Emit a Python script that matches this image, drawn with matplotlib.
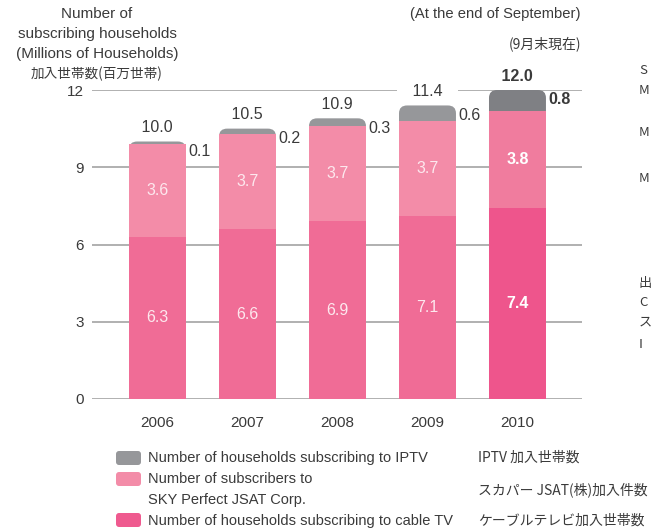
import numpy as np
import matplotlib.pyplot as plt
from matplotlib.patches import FancyBboxPatch

years = ['2006', '2007', '2008', '2009', '2010']
cable = [6.3, 6.6, 6.9, 7.1, 7.4]
skyperfect = [3.6, 3.7, 3.7, 3.7, 3.8]
iptv = [0.1, 0.2, 0.3, 0.6, 0.8]
yticks = [0, 3, 6, 9, 12]

plt.rcParams['font.family'] = ['Liberation Sans', 'Noto Sans CJK JP']
jp = ['Noto Sans CJK JP', 'Liberation Sans']
txt = '#3a3a3a'

fig = plt.figure(figsize=(6.51, 5.32), dpi=100)
ax = fig.add_axes([92/651, 133/532, 490/651, 309/532])

x = np.arange(len(years))
w = 0.633
totals = np.array(cable) + np.array(skyperfect) + np.array(iptv)
gray = ['#96979a'] * 4 + ['#7f8084']
pink = ['#f38ca8'] * 4 + ['#f07c9e']
deep = ['#f06c96'] * 4 + ['#ee558c']
wt = ['normal'] * 4 + ['bold']
inner = ['#fde8ee'] * 4 + ['white']

# gray (IPTV) bar with rounded top, full height; pink stacks drawn over it
for i in range(len(years)):
    ax.add_patch(FancyBboxPatch((x[i] - w/2, 0), w, totals[i],
                                boxstyle='round,pad=0,rounding_size=0.09',
                                mutation_aspect=3.4, fc=gray[i], ec='none',
                                zorder=3, clip_on=False))
ax.bar(x, cable, w, color=deep, zorder=4)
ax.bar(x, skyperfect, w, bottom=cable, color=pink, zorder=4)

for i in range(len(years)):
    ax.text(x[i], cable[i]/2, f'{cable[i]:.1f}', ha='center', va='center',
            color=inner[i], fontsize=11.5, fontweight=wt[i], zorder=5)
    ax.text(x[i], cable[i] + skyperfect[i]/2, f'{skyperfect[i]:.1f}', ha='center',
            va='center', color=inner[i], fontsize=11.5, fontweight=wt[i], zorder=5)
    ax.annotate(f'   {totals[i]:.1f}   ', (x[i], totals[i]), xytext=(0, 10),
                textcoords='offset points', ha='center', va='center', color=txt,
                fontsize=11.5, fontweight=wt[i], zorder=2.5,
                bbox=dict(boxstyle='square,pad=0.15', fc='white', ec='none'))
    ax.annotate(f'{iptv[i]:.1f}', (x[i] + w/2, totals[i]), xytext=(2, -7),
                textcoords='offset points', ha='left', va='center', color=txt,
                fontsize=11.5, fontweight=wt[i], zorder=5)

ax.set_xlim(-0.728, 4.717)
ax.set_ylim(0, 12)
ax.set_yticks(yticks)
ax.set_xticks(x)
ax.set_xticklabels(years)
ax.yaxis.grid(True, color='#9b9b9b', lw=1.1)
ax.set_axisbelow(True)
for s in ax.spines.values():
    s.set_visible(False)
ax.tick_params(axis='y', length=0, pad=6, labelsize=11, labelcolor=txt)
ax.tick_params(axis='x', length=0, pad=12, labelsize=11, labelcolor=txt)

def fy(py):
    return 1 - py / 532

# axis title
fig.text(97/651, fy(14), 'Number of', ha='center', va='center', fontsize=11, color=txt)
fig.text(97/651, fy(34), 'subscribing households', ha='center', va='center', fontsize=11, color=txt)
fig.text(97/651, fy(54), '(Millions of Households)', ha='center', va='center', fontsize=11, color=txt)
fig.text(97/651, fy(74), '加入世帯数(百万世帯)', ha='center', va='center', fontsize=9.8,
         color=txt, family=jp)
fig.text(581/651, fy(14), '(At the end of September)', ha='right', va='center', fontsize=10.6, color=txt)
fig.text(581/651, fy(44), '(9月末現在)', ha='right', va='center', fontsize=10, color=txt, family=jp)

# legend
sw = [(458, '#96979a'), (479, '#f38ca8'), (520, '#ef5a8f')]
for py, c in sw:
    fig.patches.append(FancyBboxPatch((116/100, (532 - py - 7)/100), 0.25, 0.14,
                                      boxstyle='round,pad=0,rounding_size=0.03',
                                      fc=c, ec='none', transform=fig.dpi_scale_trans,
                                      figure=fig))
fig.text(148/651, fy(458), 'Number of households subscribing to IPTV', va='center', fontsize=10.5, color=txt)
fig.text(148/651, fy(479), 'Number of subscribers to', va='center', fontsize=10.5, color=txt)
fig.text(148/651, fy(500), 'SKY Perfect JSAT Corp.', va='center', fontsize=10.5, color=txt)
fig.text(148/651, fy(521), 'Number of households subscribing to cable TV', va='center', fontsize=10.5, color=txt)
fig.text(478/651, fy(458), 'IPTV 加入世帯数', va='center', fontsize=10, color=txt, family=jp)
fig.text(478/651, fy(490), 'スカパー JSAT(株)加入件数', va='center', fontsize=10, color=txt, family=jp)
fig.text(478/651, fy(521), 'ケーブルテレビ加入世帯数', va='center', fontsize=10, color=txt, family=jp)

# fragments of a side note that the page cuts at its right edge
side = [(70, 'S'), (90, 'M'), (133, 'M'), (178, 'M'),
        (283, '出'), (302, 'C'), (322, 'ス'), (345, 'I')]
for py, s in side:
    fig.text(639/651, fy(py), s, va='center', fontsize=9.5, color=txt, family=jp)

fig.savefig('out.png', dpi=100)
